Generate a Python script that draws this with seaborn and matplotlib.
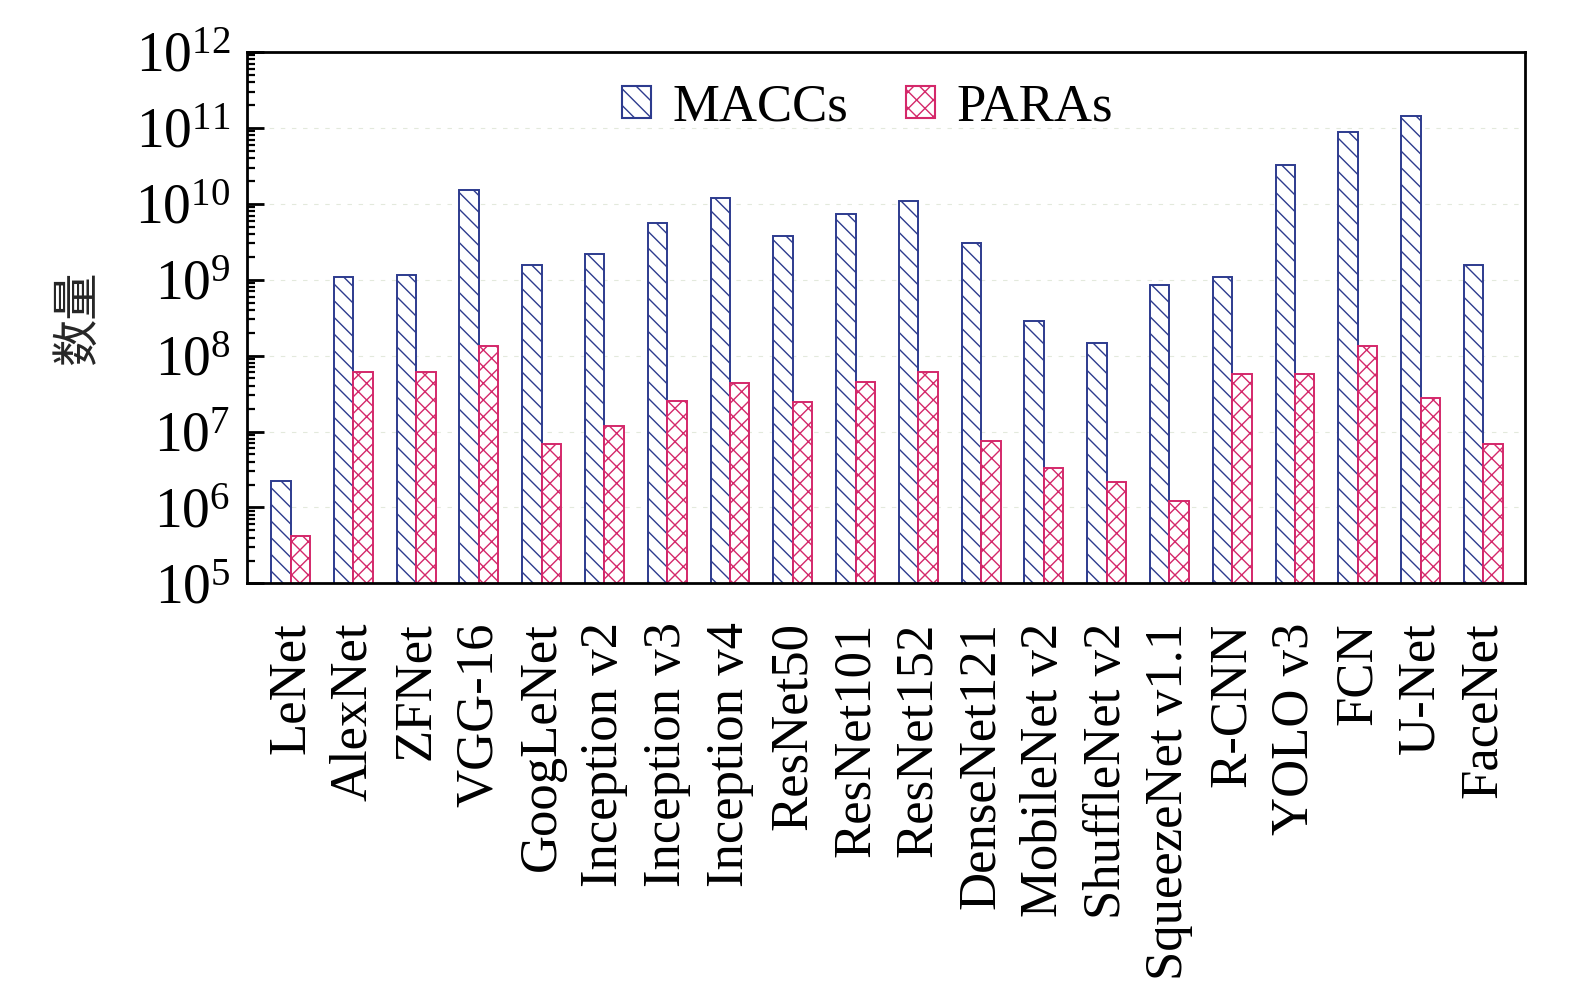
import matplotlib
matplotlib.use("Agg")
import matplotlib.pyplot as plt
from matplotlib.patches import Patch
from matplotlib.ticker import LogLocator, NullFormatter
import seaborn as sns
import pandas as pd

models = ["LeNet", "AlexNet", "ZFNet", "VGG-16", "GoogLeNet", "Inception v2",
          "Inception v3", "Inception v4", "ResNet50", "ResNet101", "ResNet152",
          "DenseNet121", "MobileNet v2", "ShuffleNet v2", "SqueezeNet v1.1",
          "R-CNN", "YOLO v3", "FCN", "U-Net", "FaceNet"]
maccs = [2.2e6, 1.1e9, 1.15e9, 1.53e10, 1.55e9, 2.2e9,
         5.6e9, 1.2e10, 3.8e9, 7.4e9, 1.1e10,
         3.0e9, 2.9e8, 1.45e8, 8.4e8,
         1.1e9, 3.2e10, 8.8e10, 1.44e11, 1.55e9]
paras = [4.2e5, 6.1e7, 6.1e7, 1.35e8, 6.8e6, 1.17e7,
         2.5e7, 4.3e7, 2.45e7, 4.5e7, 6.0e7,
         7.6e6, 3.3e6, 2.15e6, 1.2e6,
         5.8e7, 5.8e7, 1.32e8, 2.75e7, 6.8e6]
series = ["MACCs", "PARAs"]

df = pd.DataFrame({
    "model": models * 2,
    "value": maccs + paras,
    "metric": [series[0]] * len(models) + [series[1]] * len(models),
})

blue = "#2d3b8e"
red = "#d4286a"

sns.set_style("white")
plt.rcParams["font.family"] = ["Liberation Serif", "DejaVu Serif"]
plt.rcParams["mathtext.fontset"] = "stix"
plt.rcParams["hatch.linewidth"] = 1.0
plt.rcParams["text.color"] = "black"
plt.rcParams["xtick.color"] = "black"
plt.rcParams["ytick.color"] = "black"

fig = plt.figure(figsize=(15.75, 9.99), dpi=100)
ax = fig.add_axes([0.157, 0.416, 0.8115, 0.532])

sns.barplot(data=df, x="model", y="value", hue="metric", width=0.62,
            palette=[blue, red], ax=ax, legend=False)

# white bars with hatching, like the print version
styles = [(blue, "\\\\"), (red, "xx")]
for cont, (col, hat) in zip(ax.containers, styles):
    for bar in cont:
        bar.set_facecolor("white")
        bar.set_edgecolor(col)
        bar.set_hatch(hat)
        bar.set_linewidth(1.4)

ax.set_yscale("log")
ax.set_ylim(1e5, 1e12)
ax.set_xlim(-0.69, len(models) - 0.33)
ax.yaxis.set_major_locator(LogLocator(base=10, numticks=20))
ax.yaxis.set_minor_locator(LogLocator(base=10, subs=range(2, 10), numticks=100))
ax.yaxis.set_minor_formatter(NullFormatter())

for y in [1e6, 1e7, 1e8, 1e9, 1e10, 1e11]:
    ax.axhline(y, color="#e3e9dc", lw=0.8, ls=(0, (4, 6)), zorder=0)

for s in ax.spines.values():
    s.set_linewidth(2.0)
    s.set_color("black")

ax.tick_params(axis="y", which="major", direction="in", length=12, width=2,
               labelsize=40, pad=12, right=False, left=True)
ax.tick_params(axis="y", which="minor", direction="in", length=6, width=1.6,
               right=False, left=True)
ax.tick_params(axis="x", length=0, labelsize=38, pad=28, rotation=90)

ax.set_xlabel("")
ax.set_ylabel("数量", fontsize=34, family=["Noto Sans CJK SC", "DejaVu Sans"],
              labelpad=24)

handles = [Patch(facecolor="white", edgecolor=blue, hatch="\\\\", lw=1.5),
           Patch(facecolor="white", edgecolor=red, hatch="xx", lw=1.5)]
ax.legend(handles, series, loc="upper center", ncol=2, frameon=False,
          fontsize=38, handlelength=0.55, handleheight=0.55, handletextpad=0.4,
          columnspacing=1.1, borderaxespad=0.2, bbox_to_anchor=(0.485, 1.0))

fig.savefig("out.png", dpi=100)
